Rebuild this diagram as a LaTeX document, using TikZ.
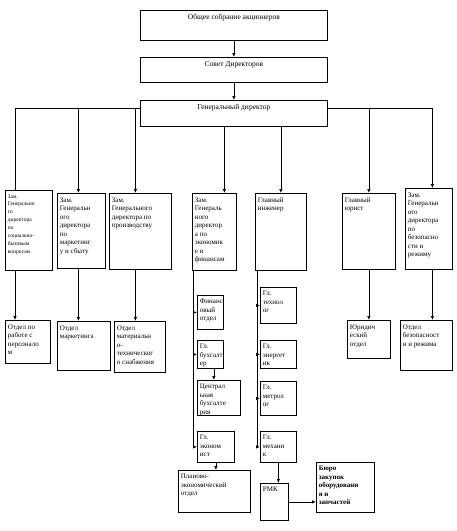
\documentclass[tikz,border=0pt]{standalone}
\usepackage{fontspec}
\setmainfont{Liberation Serif}
\usetikzlibrary{arrows.meta,positioning}

% box content: width, height (px), text
\newcommand{\cell}[3]{\parbox[t][\dimexpr#2pt-8pt\relax][t]{\dimexpr#1pt-5pt\relax}{\raggedright #3}}

\begin{document}
\begin{tikzpicture}[x=1pt,y=-1pt,line width=0.7pt,
  box/.style={draw,line width=0.8pt,anchor=north west,inner xsep=2.5pt,inner ysep=4pt,font=\fontsize{7}{8.5}\selectfont},
  topbox/.style={box,font=\fontsize{7.5}{9}\selectfont},
  arr/.style={-{Latex[length=4pt,width=3.5pt]}}]
\useasboundingbox (0,0) rectangle (457,531);

% top chain
\node[topbox] (gsa) at (140,10) {\cell{187}{30}{\centering Общее собрание акционеров}};
\node[topbox] (sd) at (140,57) {\cell{187}{25}{\centering Совет Директоров}};
\node[topbox] (gd) at (140,100) {\cell{187}{26}{\centering Генеральный директор}};

% deputies
\node[box,font=\fontsize{5.5}{7.9}\selectfont] (dsoc) at (5,190) {\cell{47}{80}{Зам.\\Генерально\\го\\директора\\по\\социально-\\бытовым\\вопросам}};
\node[box] (dmark) at (57,193) {\cell{48}{75}{Зам.\\Генеральн\\ого\\директора\\по\\маркетинг\\у и сбыту}};
\node[box] (dprod) at (109,193) {\cell{62}{76}{Зам.\\Генерального\\директора по\\производству}};
\node[box] (dfin) at (192,193) {\cell{44}{77}{Зам.\\Генераль\\ного\\директор\\а по\\экономик\\е и\\финансам}};
\node[box] (ingen) at (255,193) {\cell{51}{77}{Главный\\инженер}};
\node[box] (yurist) at (342,193) {\cell{53}{76}{Главный\\юрист}};
\node[box] (dbez) at (405,188) {\cell{47}{81}{Зам.\\Генеральн\\ого\\директора\\по\\безопасно\\сти и\\режиму}};

% departments
\node[box] (otdpers) at (5,320) {\cell{45}{43}{Отдел по\\работе с\\персонало\\м}};
\node[box] (otdmark) at (57,321) {\cell{53}{49}{Отдел\\маркетинга}};
\node[box] (otdmts) at (114,321) {\cell{51}{51}{Отдел\\материальн\\о-\\техническог\\о снабжения}};
\node[box] (yurotd) at (347,320) {\cell{43}{38}{Юридич\\еский\\отдел}};
\node[box] (otdbez) at (400,320) {\cell{52}{50}{Отдел\\безопасност\\и и режима}};

% economics column
\node[box] (finotd) at (197,295) {\cell{26}{34}{Финанс\\овый\\отдел}};
\node[box] (bukh) at (197,340) {\cell{26}{28}{Гл.\\бухгалт\\ер}};
\node[box] (central) at (197,380) {\cell{43}{35}{Централ\\ьная\\бухгалте\\рия}};
\node[box] (econ) at (197,431) {\cell{37}{31}{Гл.\\эконом\\ист}};
\node[box] (planovo) at (178,470) {\cell{72}{42}{Планово-\\экономический\\отдел}};

% engineering column
\node[box] (tehn) at (260,287) {\cell{36}{36}{Гл.\\технол\\ог}};
\node[box] (energ) at (260,340) {\cell{36}{28}{Гл.\\энергет\\ик}};
\node[box] (metr) at (260,381) {\cell{36}{34}{Гл.\\метрол\\ог}};
\node[box] (meh) at (260,431) {\cell{36}{31}{Гл.\\механи\\к}};
\node[box] (rmk) at (260,483) {\cell{28}{37}{РМК}};
\node[box,font=\fontsize{7}{8.5}\selectfont\bfseries] (buro) at (316,462) {\cell{58}{50}{Бюро\\закупок\\оборудовани\\я и\\запчастей}};

% connectors
\draw[arr] (gsa) -- (sd);
\draw[arr] (sd) -- (gd);
\coordinate (busL) at ([yshift=5pt]gd.west);
\coordinate (busR) at ([yshift=5pt]gd.east);
\draw (busL) -| ([xshift=10pt]dsoc.north west);
\draw[arr] ([xshift=-3pt]dmark.north |- busL) -- ([xshift=-3pt]dmark.north);
\draw[arr] ([xshift=-5pt]dprod.north |- busL) -- ([xshift=-5pt]dprod.north);
\draw[arr] (busR) -| ([xshift=3.5pt]dbez.north);
\draw[arr] (yurist.north |- busR) -- (yurist.north);
\draw[arr] ([xshift=10pt]dfin.north |- gd.south) -- ([xshift=10pt]dfin.north);
\draw[arr] (ingen.north |- gd.south) -- (ingen.north);

\draw[arr] ([xshift=10pt]dsoc.south west) -- ([xshift=10pt]dsoc.south west |- otdpers.north);
\foreach \a/\b/\dx in {dmark/otdmark/-3,dprod/otdmts/-5,yurist/yurotd/0,dbez/otdbez/3.5}
  \draw[arr] ([xshift=\dx pt]\a.south) -- ([xshift=\dx pt]\a.south |- \b.north);

% spines
\coordinate (spL) at ([xshift=1pt]dfin.south west);
\draw[arr] (spL) |- (econ.west);
\foreach \n in {finotd,bukh}
  \draw[arr] (spL |- \n.west) -- (\n.west);
\coordinate (spR) at ([xshift=2pt]ingen.south west);
\draw[arr] (spR) |- (meh.west);
\foreach \n in {tehn,energ,metr}
  \draw[arr] (spR |- \n.west) -- (\n.west);

\draw[arr] ([xshift=3.5pt]bukh.south) -- ([xshift=3.5pt]bukh.south |- central.north);
\draw[arr] (econ.south) -- (econ.south |- planovo.north);
\draw[arr] (meh.south) -- (meh.south |- rmk.north);
\draw[arr] (rmk.east) -- (rmk.east -| buro.west);
\end{tikzpicture}
\end{document}
